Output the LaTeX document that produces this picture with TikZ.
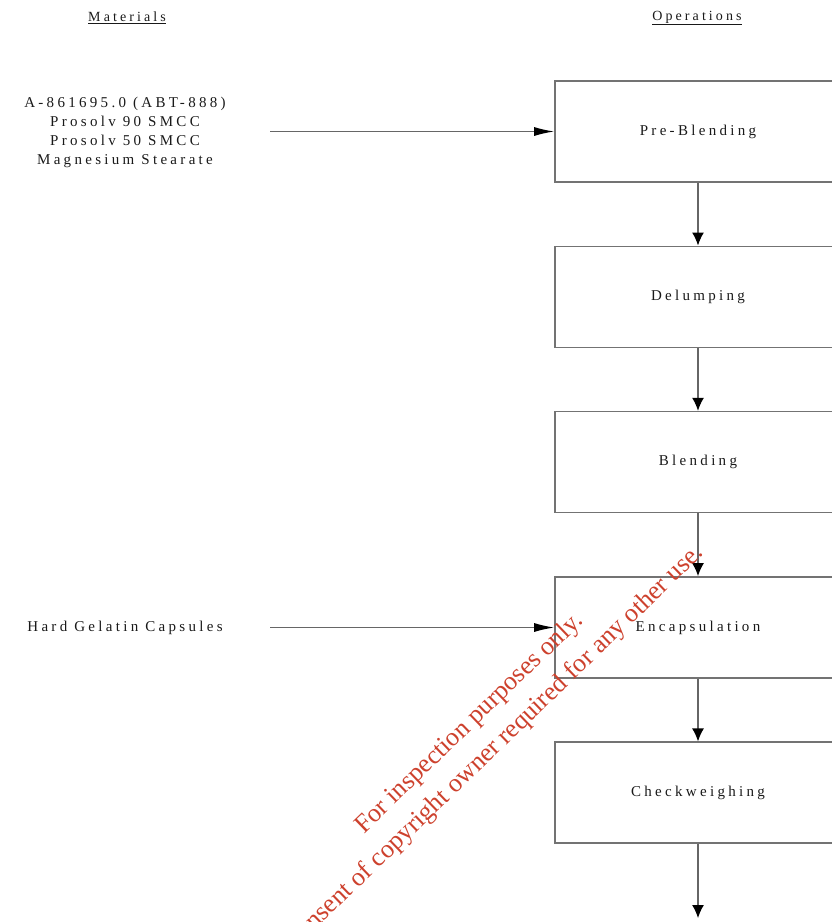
\documentclass[tikz,border=0pt]{standalone}
\usepackage{fontspec}
\setmainfont{Liberation Serif}
\newfontfamily\spaced{Liberation Serif}[LetterSpace=22]
\usetikzlibrary{arrows.meta,positioning}
\definecolor{stampred}{RGB}{205,65,45}

\begin{document}
\begin{tikzpicture}[x=1pt,y=-1pt,
    opbox/.style={draw=black!55,line width=1.6pt,minimum width=286pt,minimum height=101pt,
        inner sep=0pt,text=black!90,font=\spaced\fontsize{15}{17}\selectfont},
    matl/.style={align=center,inner sep=0pt,text=black!90,font=\spaced\fontsize{15}{19}\selectfont},
    head/.style={inner sep=0pt,text=black!90,font=\spaced\fontsize{14}{17}\selectfont},
    flow/.style={draw=black!60,line width=1.3pt,-{Latex[length=13pt,width=12pt,color=black]}},
    feed/.style={draw=black!60,line width=1.3pt,-{Latex[length=20pt,width=9pt,color=black]}},
    node distance=62.7pt]
    \useasboundingbox (0,0) rectangle (832,922);
    \clip (0,0) rectangle (832,922);

    \node[head] (mathead) at (127,18) {\underline{Materials}};
    \node[head] (ophead)  at (697,18) {\underline{Operations}};

    % operations column
    \node[opbox] (preblend) at (698,131.5) {Pre-Blending};
    \node[opbox,below=of preblend] (delump) {Delumping};
    \node[opbox,below=of delump]   (blend)  {Blending};
    \node[opbox,below=of blend]    (encap)  {Encapsulation};
    \node[opbox,below=of encap]    (check)  {Checkweighing};
    \coordinate (out) at (698,918);

    \foreach \a/\b in {preblend/delump,delump/blend,blend/encap,encap/check}{%
        \draw[flow] (\a) -- (\b);
    }
    \draw[flow] (check) -- (out);

    % materials column
    \node[matl] (blendmix) at (125,132.5) {A-861695.0 (ABT-888)\\Prosolv 90 SMCC\\Prosolv 50 SMCC\\Magnesium Stearate};
    \node[matl] (caps) at (125,628) {Hard Gelatin Capsules};
    \coordinate (mixout)  at (270,131.5);
    \coordinate (capsout) at (270,627.5);
    \draw[feed] (mixout)  -- (mixout -| preblend.west);
    \draw[feed] (capsout) -- (capsout -| encap.west);

    % stamp over the page
    \node[text=stampred,align=center,rotate=44,inner sep=0pt,
          font=\fontsize{26}{35}\selectfont] (stamp) at (482,736)
        {For inspection purposes only.\\Consent of copyright owner required for any other use.};
\end{tikzpicture}
\end{document}
